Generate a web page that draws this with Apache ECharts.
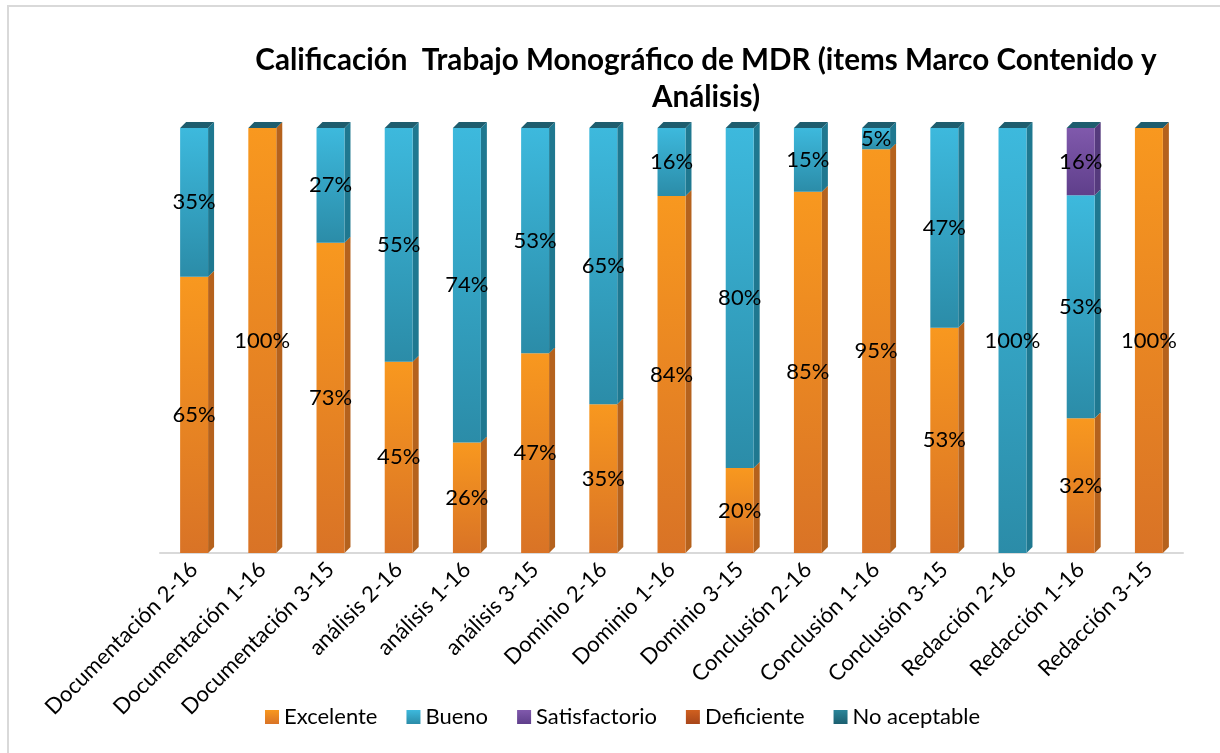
<!DOCTYPE html>
<html>
<head>
<meta charset="utf-8">
<script src="https://cdn.jsdelivr.net/npm/echarts@6/dist/echarts.min.js"></script>
<style>
  html, body { margin: 0; padding: 0; background: #fff; }
  #main { width: 1220px; height: 753px; }
</style>
</head>
<body>
<div id="main"></div>
<script>
// categorias (eje x)
const categorias = [
  'Documentación 2-16', 'Documentación 1-16', 'Documentación 3-15',
  'análisis 2-16', 'análisis 1-16', 'análisis 3-15',
  'Dominio 2-16', 'Dominio 1-16', 'Dominio 3-15',
  'Conclusión 2-16', 'Conclusión 1-16', 'Conclusión 3-15',
  'Redacción 2-16', 'Redacción 1-16', 'Redacción 3-15'
];
// porcentajes por calificacion
const excelente     = [65, 100, 73, 45, 26, 47, 35, 84, 20, 85, 95, 53, 0, 32, 100];
const bueno         = [35, 0, 27, 55, 74, 53, 65, 16, 80, 15, 5, 47, 100, 53, 0];
const satisfactorio = [0, 0, 0, 0, 0, 0, 0, 0, 0, 0, 0, 0, 0, 16, 0];
const deficiente    = [0, 0, 0, 0, 0, 0, 0, 0, 0, 0, 0, 0, 0, 0, 0];
const noAceptable   = [0, 0, 0, 0, 0, 0, 0, 0, 0, 0, 0, 0, 0, 0, 0];

const nombres = ['Excelente', 'Bueno', 'Satisfactorio', 'Deficiente', 'No aceptable'];
const valores = [excelente, bueno, satisfactorio, deficiente, noAceptable];

// colores: frente (arriba, abajo) y lateral
const frente = [
  ['#F8981F', '#D97326'],
  ['#3DB9DD', '#2B8CA8'],
  ['#8059AC', '#5F3F8B'],
  ['#D0601F', '#A8461A'],
  ['#2B8599', '#1C5F70']
];
const lateral = ['#B5621D', '#1F7890', '#553A7D', '#8E3E16', '#17505E'];
const tapa = '#1E5D6E';

const fuente = 'Lato, "Open Sans", sans-serif';

// 100% apilado: cada barra se escala al total de su columna
const totales = categorias.map((c, i) => valores.reduce((s, v) => s + v[i], 0));
const pct = (arr) => arr.map((v, i) => totales[i] ? v / totales[i] * 100 : 0);

const chart = echarts.init(document.getElementById('main'));

const grad = (c) => new echarts.graphic.LinearGradient(0, 0, 0, 1, [
  { offset: 0, color: c[0] }, { offset: 1, color: c[1] }
]);

const series = nombres.map((n, k) => ({
  name: n,
  type: 'bar',
  stack: 'total',
  barWidth: '41%',
  data: pct(valores[k]),
  itemStyle: { color: grad(frente[k]) },
  label: {
    show: true,
    position: 'inside',
    color: '#000',
    fontSize: 22,
    fontFamily: fuente,
    formatter: (p) => valores[k][p.dataIndex] ? valores[k][p.dataIndex] + '%' : ''
  },
  emphasis: { disabled: true }
}));

// lateral y tapa de cada barra (efecto 3D), por debajo de las etiquetas
const dx = 6, dy = 6;
series.push({
  type: 'custom',
  silent: true,
  z: 1,
  data: categorias.map((c, i) => [i]),
  encode: { x: 0 },
  renderItem: (params, api) => {
    const i = params.dataIndex;
    const w = api.size([1, 0])[0] * 0.41;
    const cx = api.coord([i, 0])[0];
    const x0 = cx - w / 2, x1 = cx + w / 2;
    const kids = [];
    let acc = 0;
    valores.forEach((arr, k) => {
      if (!arr[i]) return;
      const p = arr[i] / totales[i] * 100;
      const yb = api.coord([i, acc])[1];
      const yt = api.coord([i, acc + p])[1];
      acc += p;
      kids.push({
        type: 'polygon',
        shape: { points: [[x1, yt], [x1 + dx, yt - dy], [x1 + dx, yb - dy], [x1, yb]] },
        style: { fill: lateral[k] }
      });
    });
    const yTop = api.coord([i, acc])[1];
    kids.push({
      type: 'polygon',
      shape: { points: [[x0, yTop], [x0 + dx, yTop - dy], [x1 + dx, yTop - dy], [x1, yTop]] },
      style: { fill: tapa }
    });
    return { type: 'group', children: kids };
  }
});

chart.setOption({
  backgroundColor: '#fff',
  animation: false,
  title: {
    text: 'Calificación  Trabajo Monográfico de MDR (items Marco Contenido y\nAnálisis)',
    left: 701,
    top: 37,
    textAlign: 'center',
    textStyle: { fontFamily: fuente, fontSize: 29.6, fontWeight: 'bold', color: '#000', lineHeight: 37 }
  },
  graphic: [{
    type: 'rect',
    shape: { x: 8, y: 6, width: 1300, height: 800 },
    style: { fill: 'none', stroke: '#D9D9D9', lineWidth: 2 },
    silent: true
  }],
  legend: {
    data: nombres,
    bottom: 20,
    left: 260,
    itemWidth: 14,
    itemHeight: 14,
    itemGap: 29,
    icon: 'rect',
    textStyle: { fontFamily: fuente, fontSize: 22, color: '#000' }
  },
  grid: { left: 160, right: 37, top: 128, bottom: 200 },
  xAxis: {
    type: 'category',
    data: categorias,
    offset: 5,
    axisLine: { lineStyle: { color: '#D9D9D9', width: 2 } },
    axisTick: { show: false },
    axisLabel: { rotate: 45, interval: 0, fontFamily: fuente, fontSize: 22, color: '#000', margin: 8 }
  },
  yAxis: {
    type: 'value',
    min: 0,
    max: 100,
    show: false,
    splitLine: { show: false }
  },
  series: series
});
</script>
</body>
</html>
